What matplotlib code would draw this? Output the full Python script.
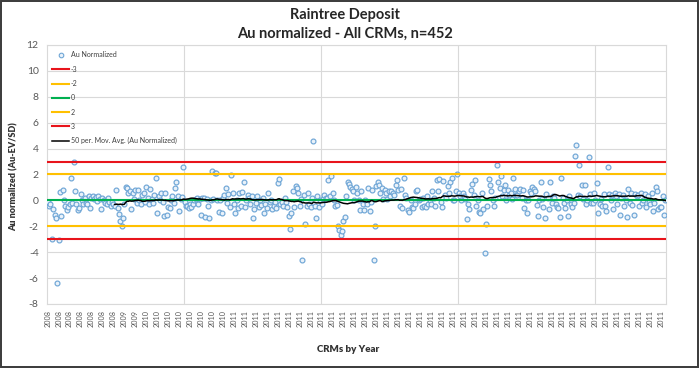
import matplotlib
matplotlib.use("Agg")
import matplotlib.pyplot as plt
import numpy as np
import pandas as pd
from matplotlib.lines import Line2D
from matplotlib.patches import Rectangle

plt.rcParams["font.family"] = ["Lato", "DejaVu Sans"]
plt.rcParams["axes.unicode_minus"] = False

# Au normalized values (Au-EV/SD), one per CRM in order
au_norm = [
    -0.1, -0.45, -0.3, -2.95, -0.7, -1.1, -1.35, -6.35, -3.05, 0.62,
    -1.2, 0.77, 0.05, -0.45, -0.75, -0.55, -0.3, 1.75, -0.2, 2.95,
    0.75, -0.3, -0.75, -0.6, 0.5, 0.05, -0.3, 0.15, -0.2, -0.3,
    0.3, -0.6, 0.2, 0.35, 0.1, 0.25, -0.05, 0.3, 0.1, -0.65,
    0.15, 0.05, -0.2, -0.3, 0.2, -0.15, -0.4, -0.1, -0.3, -0.45,
    0.8, -0.6, -1.05, -1.6, -1.95, -1.35, -0.3, 1.05, 0.95, 0.6,
    0.75, -0.7, 0.55, 0.1, 0.8, -0.2, 0.8, 0.05, -0.3, 0.4,
    0.55, -0.1, 1.0, 0.2, -0.3, 0.85, 0.1, -0.2, 0.4, 1.7,
    -0.95, 0.3, 0.05, 0.6, -0.1, -1.2, 0.6, -1.1, -0.5, -0.6,
    0.0, 0.35, -0.2, 0.95, 1.4, 0.3, -0.85, 0.1, 0.25, 2.55,
    -0.1, -0.4, -0.4, -0.6, -0.25, -0.5, -0.25, 0.05, 0.1, 0.2,
    -0.3, 0.1, -1.1, 0.2, 0.15, -1.25, 0.1, -0.4, -1.35, 0.05,
    2.3, 0.1, 2.1, 2.15, 0.05, -0.9, 0.0, -0.95, 0.15, 0.45,
    0.95, -0.2, 0.5, -0.5, 1.95, 0.55, -0.25, -0.95, 0.0, -0.6,
    0.55, -0.4, 0.65, 1.45, -0.5, 0.0, 0.4, 0.2, -0.3, 0.35,
    -1.35, -0.7, -0.2, 0.3, -0.5, 0.0, -0.35, 0.2, -0.95, -0.3,
    -0.6, 0.55, -0.1, 0.0, -0.7, -0.4, -0.1, -0.6, 1.35, 1.65,
    -0.3, -0.1, -0.4, 0.2, -0.1, -0.55, -1.2, -2.2, -1.0, 0.7,
    -0.5, 1.1, 0.95, 0.55, -0.45, 0.1, -4.6, 0.4, -1.8, -0.4,
    0.55, -0.3, -0.55, 0.2, 4.55, -0.45, -1.35, 0.3, -0.5, 0.05,
    -0.3, 0.1, 0.4, 0.2, 0.2, 1.6, 0.3, 1.9, 0.6, 0.0,
    -0.4, -0.35, -2.0, -2.25, -2.7, -2.35, -1.6, -1.3, 0.3, 1.45,
    1.3, 1.05, 0.85, 0.7, 0.0, 1.05, 0.55, 0.0, -0.75, 0.7,
    -0.3, -0.75, 0.0, -0.3, 0.95, -0.8, -0.1, 0.8, -4.6, -2.0,
    1.1, 1.4, 1.2, 0.55, 0.95, 0.1, 0.8, 0.55, 0.1, 0.7,
    0.3, 0.7, 0.6, 0.4, 1.2, 1.6, 0.8, -0.4, 0.9, -0.6,
    1.7, 0.4, 0.2, -0.75, -0.9, 0.0, -0.5, -0.6, -0.3, 0.7,
    0.8, 0.0, 0.1, -0.55, 0.15, -0.4, -0.5, 0.3, -0.3, 0.0,
    -0.3, 0.7, 0.2, -0.4, 1.6, 0.75, 1.65, -0.1, -0.5, 1.5,
    0.4, 0.2, 1.1, 0.6, 1.4, 1.7, 0.05, 0.0, 0.7, 2.0,
    0.55, 0.3, 0.0, 0.6, 0.3, 0.1, -1.45, -0.3, -0.7, 0.8,
    1.25, 0.4, 1.6, -0.4, 0.0, -0.9, -0.95, 0.6, -0.7, -4.05,
    -1.8, -0.45, 1.65, 1.2, 0.7, 0.0, -0.4, 0.2, 2.75, 1.4,
    0.95, 1.9, 0.3, 0.8, 1.2, 0.0, 0.8, 0.4, 0.6, 0.1,
    1.7, 0.9, 0.4, 0.4, 0.75, 0.9, 0.2, 0.8, -0.6, 0.05,
    -1.0, 0.0, 0.7, 0.55, 1.0, 0.9, 0.75, -0.35, -1.2, 0.05,
    1.45, 0.1, -0.55, -1.35, 0.5, 0.2, -0.7, 1.45, -0.2, 0.3,
    0.2, -0.3, -0.55, -0.6, -1.25, 1.7, 0.2, -0.2, -0.6, 0.0,
    -1.2, 0.35, -0.3, -0.5, -0.2, 3.4, 4.25, 0.4, 2.75, 0.3,
    1.2, 0.1, 1.15, -0.3, 0.0, 3.35, 0.5, -0.2, -0.2, 0.55,
    0.0, 1.35, -1.0, -0.3, 0.1, -0.4, 0.5, -0.4, -0.8, 2.55,
    0.5, 0.0, 0.4, -0.7, 0.6, 0.3, -0.3, 0.5, -1.1, 0.2,
    0.4, -0.4, 0.0, -1.3, 0.9, -0.2, 0.55, -0.35, -1.1, 0.5,
    0.3, 0.4, -0.4, 0.6, -0.2, 0.0, 0.5, -0.5, 0.3, -0.1,
    -0.3, 0.6, -0.8, -0.2, 1.0, 0.7, -0.65, -0.5, -0.5, 0.35,
    -1.15, 0.05,
]

# control limits (in SD) and their colours
limits = [-3, -2, 0, 2, 3]
limit_colors = ["#e8141b", "#ffc000", "#00b050", "#ffc000", "#e8141b"]

# year labels shown on every 8th CRM
label_step = 8
year_labels = ["2008"] * 7 + ["2009"] * 2 + ["2010"] * 8 + ["2011"] * 40

n = len(au_norm)
x = np.arange(n)
mov_avg = pd.Series(au_norm).rolling(50).mean()

fig = plt.figure(figsize=(6.99, 3.68), dpi=100)
fig.patches.append(Rectangle((0.001, 0.002), 0.997, 0.996, transform=fig.transFigure,
                             fill=False, edgecolor="#3a3a3a", linewidth=1.4))
ax = fig.add_axes([0.0672, 0.174, 0.8856, 0.7038])

ax.plot(x, au_norm, linestyle="none", marker="o", markersize=3.5,
        markerfacecolor="#eaf2fa", markeredgecolor="#6fa6d6", markeredgewidth=0.85,
        zorder=3)
for lim, col in zip(limits, limit_colors):
    ax.plot(x, np.full(n, lim), color=col, linewidth=1.5, zorder=4)
ax.plot(x, mov_avg, color="black", linewidth=1.1, zorder=5)

ax.set_xlim(-0.5, n - 0.5)
ax.set_ylim(-8, 12)
ax.set_yticks(range(-8, 13, 2))
ax.tick_params(axis="y", labelsize=7.5, labelcolor="#595959", length=0, pad=6)

ticks = np.arange(0, n, label_step)
ax.set_xticks(ticks)
ax.set_xticklabels(year_labels[:len(ticks)], rotation=90, fontsize=5.2, color="#595959")
ax.tick_params(axis="x", length=0, pad=4)
ax.set_xticks([99.5, 199.5, 299.5, 399.5], minor=True)
ax.tick_params(axis="x", which="minor", length=0)

ax.grid(axis="y", which="major", color="#d9d9d9", linewidth=0.8)
ax.grid(axis="x", which="minor", color="#d9d9d9", linewidth=0.8)
ax.set_axisbelow(True)
for sp in ax.spines.values():
    sp.set_color("#d9d9d9")
    sp.set_linewidth(0.8)

handles = [Line2D([], [], linestyle="none", marker="o", markersize=3.3,
                  markerfacecolor="#eaf2fa", markeredgecolor="#6fa6d6", markeredgewidth=0.8)]
handles += [Line2D([], [], color=c, linewidth=1.5) for c in limit_colors]
handles.append(Line2D([], [], color="black", linewidth=1.1))
labels = ["Au Normalized"] + [str(v) for v in limits] + ["50 per. Mov. Avg. (Au Normalized)"]
ax.legend(handles, labels, loc="upper left", bbox_to_anchor=(0.008, 0.975), frameon=False,
          fontsize=5, labelcolor="#404040", handlelength=2.5, handletextpad=0.2,
          labelspacing=1.05, borderaxespad=0, borderpad=0)

fig.text(0.4936, 0.959, "Raintree Deposit", ha="center", va="center",
         fontsize=10.5, fontweight="bold", color="#262626")
fig.text(0.4936, 0.908, "Au normalized - All CRMs, n=452", ha="center", va="center",
         fontsize=10.5, fontweight="bold", color="#262626")
fig.text(14 / 699, 0.52, "Au normalized (Au-EV/SD)", rotation=90, ha="center", va="center",
         fontsize=6.5, fontweight="heavy", color="#333333")
fig.text(348 / 699, 1 - 350 / 368, "CRMs by Year", ha="center", va="center",
         fontsize=7, fontweight="heavy", color="#333333")

fig.savefig("out.png", dpi=100)
